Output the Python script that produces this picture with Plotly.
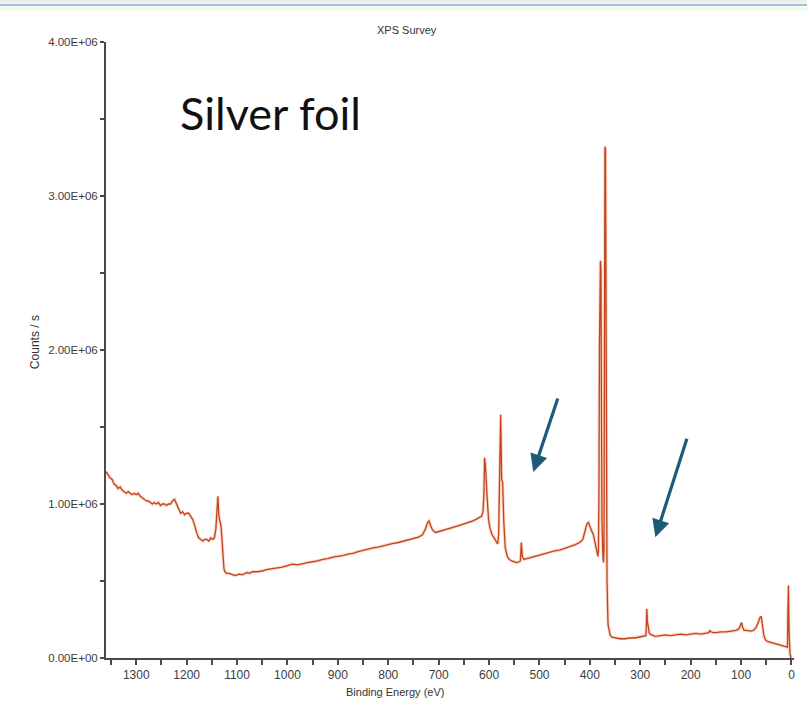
import plotly.graph_objects as go

# Survey spectrum: binding energy (eV) and intensity (counts/s, in millions)
energy = [
    1360, 1356, 1352, 1348, 1344, 1340, 1336, 1332, 1328, 1324, 1320, 1316, 1312, 1308,
    1304, 1300, 1296, 1292, 1288, 1284, 1280, 1276, 1272, 1268, 1264, 1260, 1256, 1252,
    1248, 1244, 1240, 1236, 1232, 1228, 1224, 1220, 1216, 1212, 1208, 1204, 1200, 1196,
    1192, 1188, 1184, 1180, 1176, 1172, 1168, 1164, 1160, 1156, 1152, 1148, 1145, 1142,
    1140, 1138, 1136, 1134, 1132, 1130, 1128, 1126, 1124, 1120, 1116, 1110, 1104, 1100,
    1095, 1090, 1085, 1080, 1075, 1070, 1060, 1050, 1040, 1030, 1020, 1010, 1000, 990,
    980, 970, 960, 950, 940, 930, 920, 910, 900, 890, 880, 870, 860, 850, 840, 830, 820,
    810, 800, 790, 780, 770, 760, 750, 740, 732, 726, 722, 719, 716, 712, 706, 700, 690,
    680, 670, 660, 650, 640, 632, 626, 620, 615, 612, 610, 609, 607, 604, 601, 598, 594,
    590, 586, 583, 581, 579, 577, 575, 573, 571, 568, 564, 560, 555, 550, 545, 540, 538,
    537, 536, 534, 531, 525, 520, 510, 500, 490, 480, 470, 460, 450, 440, 430, 420, 414,
    410, 406, 403, 400, 397, 393, 389, 386, 384, 383, 382, 381, 379, 378, 377, 376, 374,
    373, 372, 371, 370, 369, 368, 367, 366, 364, 360, 356, 350, 340, 330, 320, 310, 300,
    294, 290, 289, 288, 287, 286, 282, 278, 270, 260, 250, 240, 230, 220, 210, 200, 190,
    180, 170, 164, 162, 160, 155, 150, 140, 130, 120, 110, 104, 101, 99, 97, 94, 90, 85,
    80, 75, 70, 66, 63, 60, 58, 55, 52, 49, 45, 40, 35, 30, 25, 20, 15, 10, 8, 7, 6, 5,
    4, 3, 2, 1, 0,
]
counts_m = [
    1.21, 1.19, 1.17, 1.16, 1.13, 1.12, 1.10, 1.11, 1.09, 1.08, 1.07, 1.08, 1.07, 1.06,
    1.07, 1.06, 1.07, 1.05, 1.04, 1.03, 1.02, 1.02, 1.01, 1.00, 1.01, 1.00, 1.01, 0.99,
    1.00, 1.00, 0.99, 1.00, 1.00, 1.02, 1.03, 1.00, 0.96, 0.94, 0.95, 0.93, 0.94, 0.94,
    0.92, 0.90, 0.86, 0.81, 0.78, 0.77, 0.76, 0.77, 0.77, 0.76, 0.78, 0.77, 0.78, 0.84,
    0.95, 1.05, 0.92, 0.88, 0.86, 0.78, 0.66, 0.58, 0.56, 0.55, 0.55, 0.54, 0.535, 0.54,
    0.545, 0.54, 0.55, 0.555, 0.55, 0.56, 0.56, 0.565, 0.575, 0.58, 0.585, 0.59, 0.60, 0.61,
    0.605, 0.615, 0.62, 0.625, 0.63, 0.64, 0.645, 0.655, 0.66, 0.665, 0.675, 0.68, 0.69,
    0.70, 0.705, 0.715, 0.72, 0.73, 0.735, 0.745, 0.75, 0.76, 0.77, 0.775, 0.785, 0.80,
    0.84, 0.88, 0.89, 0.86, 0.83, 0.815, 0.82, 0.83, 0.84, 0.85, 0.86, 0.87, 0.885, 0.89,
    0.90, 0.91, 0.92, 0.95, 1.08, 1.30, 1.24, 1.05, 0.90, 0.84, 0.80, 0.78, 0.76, 0.74,
    0.80, 1.20, 1.58, 1.16, 1.14, 0.90, 0.72, 0.66, 0.64, 0.63, 0.625, 0.62, 0.625, 0.63,
    0.68, 0.75, 0.66, 0.64, 0.645, 0.65, 0.655, 0.665, 0.675, 0.685, 0.695, 0.70, 0.71,
    0.72, 0.735, 0.75, 0.77, 0.82, 0.87, 0.88, 0.86, 0.83, 0.80, 0.74, 0.68, 0.66, 0.70,
    1.05, 2.00, 2.58, 2.52, 1.60, 0.90, 0.66, 0.62, 0.70, 2.10, 3.32, 3.30, 2.40, 0.95,
    0.50, 0.22, 0.15, 0.135, 0.13, 0.125, 0.125, 0.13, 0.13, 0.135, 0.14, 0.14, 0.145,
    0.20, 0.32, 0.24, 0.16, 0.15, 0.14, 0.145, 0.15, 0.145, 0.15, 0.155, 0.15, 0.155,
    0.16, 0.155, 0.16, 0.165, 0.18, 0.17, 0.165, 0.165, 0.17, 0.17, 0.175, 0.18, 0.19,
    0.21, 0.23, 0.20, 0.18, 0.18, 0.175, 0.175, 0.18, 0.20, 0.23, 0.26, 0.27, 0.22, 0.15,
    0.12, 0.11, 0.105, 0.10, 0.095, 0.095, 0.09, 0.085, 0.075, 0.07, 0.07, 0.30, 0.47,
    0.20, 0.06, 0.03, 0.015, 0.0,
]
counts = [c * 1e6 for c in counts_m]

y_ticks = [0, 1e6, 2e6, 3e6, 4e6]
y_labels = ["0.00E+00", "1.00E+06", "2.00E+06", "3.00E+06", "4.00E+06"]

line_color = "#c2441c"
axis_color = "#4a4a4a"
label_font = dict(family="Liberation Sans, Arial, sans-serif", size=12, color="#3c3c3c")

fig = go.Figure()
# soft halo under the trace
fig.add_trace(go.Scatter(
    x=energy, y=counts, mode="lines",
    line=dict(color="rgba(240,140,100,0.35)", width=3.2),
    hoverinfo="skip", showlegend=False,
))
fig.add_trace(go.Scatter(
    x=energy, y=counts, mode="lines",
    line=dict(color=line_color, width=1.3),
    showlegend=False,
))

fig.update_layout(
    width=807, height=719,
    margin=dict(l=106, r=13, t=42, b=61),
    paper_bgcolor="white", plot_bgcolor="white",
    xaxis=dict(
        range=[1360, -5], showgrid=False, zeroline=False,
        showline=True, linecolor=axis_color, linewidth=2,
        tickmode="linear", tick0=0, dtick=100,
        ticks="outside", ticklen=5, tickwidth=1.5, tickcolor=axis_color,
        minor=dict(dtick=50, ticks="outside", ticklen=5, tickwidth=1.5, tickcolor=axis_color),
        tickfont=label_font,
    ),
    yaxis=dict(
        range=[0, 4e6], showgrid=False, zeroline=False,
        showline=True, linecolor=axis_color, linewidth=2,
        tickmode="array", tickvals=y_ticks, ticktext=y_labels,
        ticks="outside", ticklen=4, tickwidth=1.5, tickcolor=axis_color,
        minor=dict(dtick=5e5, ticks="outside", ticklen=4, tickwidth=1.5, tickcolor=axis_color),
        tickfont=dict(family="Liberation Sans, Arial, sans-serif", size=11.5, color="#3c3c3c"),
    ),
    shapes=[
        dict(type="rect", xref="paper", yref="paper", x0=-0.2, x1=1.1,
             y0=1.062, y1=1.075, fillcolor="#eeeeee", line=dict(width=0), layer="below"),
        dict(type="line", xref="paper", yref="paper", x0=-0.2, x1=1.1,
             y0=1.060, y1=1.060, line=dict(color="#7fb2c9", width=1.5)),
        dict(type="rect", xref="paper", yref="paper", x0=-0.2, x1=1.1,
             y0=1.050, y1=1.059, fillcolor="rgba(235,245,225,0.6)", line=dict(width=0), layer="below"),
    ],
    annotations=[
        dict(text="XPS Survey", xref="paper", yref="paper", x=0.437, y=1.033,
             xanchor="center", showarrow=False,
             font=dict(family="Liberation Sans, Arial, sans-serif", size=11, color="#333")),
        dict(text="Silver foil", xref="paper", yref="paper", x=0.104, y=0.885,
             xanchor="left", yanchor="middle", showarrow=False,
             font=dict(family="Lato, Noto Sans, sans-serif", size=45, color="#111")),
        dict(text="Counts / s", xref="paper", yref="paper", x=-0.103, y=0.513,
             xanchor="center", yanchor="middle", textangle=-90, showarrow=False,
             font=dict(family="Liberation Sans, Arial, sans-serif", size=12, color="#333")),
        dict(text="Binding Energy (eV)", xref="paper", yref="paper", x=0.42, y=-0.068,
             xanchor="center", showarrow=False,
             font=dict(family="Liberation Sans, Arial, sans-serif", size=11, color="#333")),
        dict(text="", xref="paper", yref="paper", x=0.621, y=0.302,
             ax=25, ay=-75, showarrow=True, arrowhead=2, arrowsize=1.1,
             arrowwidth=3.2, arrowcolor="#1d5b78"),
        dict(text="", xref="paper", yref="paper", x=0.7985, y=0.196,
             ax=32, ay=-100, showarrow=True, arrowhead=2, arrowsize=1.1,
             arrowwidth=3.2, arrowcolor="#1d5b78"),
    ],
)

fig.write_html("out.html")
